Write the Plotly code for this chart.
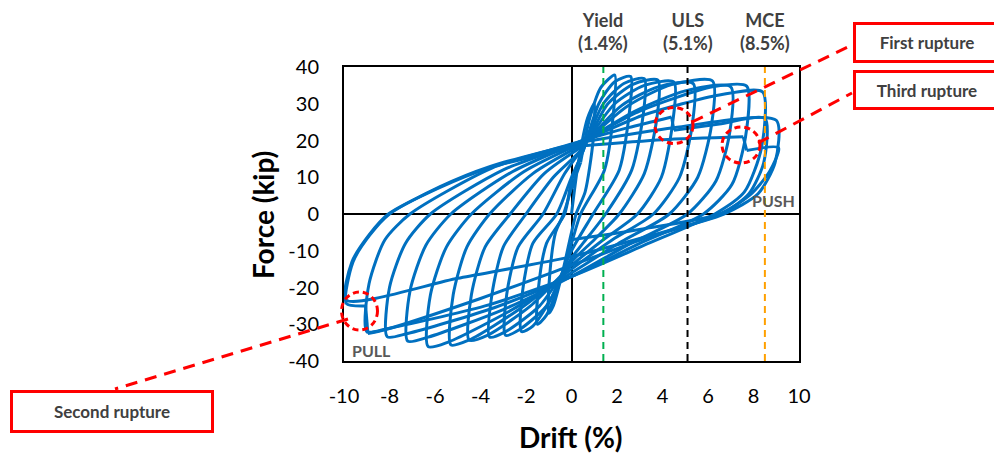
import plotly.graph_objects as go

# ---------------- data ----------------
# Hysteresis path, cycle by cycle (drift %, force kip); pieces are consecutive
c01_x = [0, 0.3, 0.7, 1.0, 0.95, 0.6, 0.2, 0, -0.4, -0.8, -1.0, -0.95, -0.7, -0.35, 0, 0.4]
c01_y = [0, 14, 26, 30, 20, 6, 0, -5, -16, -25, -27, -16, -5, 0, 7, 14]
c02_x = [0.4, 0.8, 1.3, 1.9, 1.85, 1.45, 0.4, 0, -0.6, -1.1, -1.5, -1.45, -1.1, -0.3, 0, 0.5]
c02_y = [14, 26, 34.5, 37.8, 28, 12, 0, -8, -20, -27.5, -30, -20, -8, 0, 9, 17]
c03_x = [0.5, 1.2, 1.9, 2.6, 2.55, 2.1, 0.95, 0, -0.9, -1.7, -2.2, -2.15, -1.7, -0.65, 0, 0.5]
c03_y = [17, 30, 36, 37.4, 28, 12, 0, -10, -23, -30.5, -32, -21, -8, 0, 10, 17]
c04_x = [0.5, 1.4, 2.3, 3.2, 3.15, 2.65, 1.5, 0.5, 0, -1.1, -2.3, -2.9, -2.85, -2.35, -1.25, -0.3, 0.5]
c04_y = [17, 30, 35.5, 36.8, 27, 12, 0, -8, -12, -25, -31.5, -33, -22, -9, 0, 11, 18]
c05_x = [0.5, 1.6, 2.7, 3.8, 3.75, 3.2, 2.1, 1.0, 0, -1.4, -2.9, -3.6, -3.5, -3.0, -2.0, -0.8, 0.5]
c05_y = [18, 30, 35.3, 36.4, 26, 11, 0, -7, -13, -25, -32, -33.5, -22, -9, 0, 10, 18]
c06_x = [0.5, 1.9, 3.2, 4.5, 4.45, 3.95, 2.9, 1.4, 0, -1.8, -3.7, -4.5, -4.4, -3.8, -2.7, -1.2, 0.5]
c06_y = [18, 30, 35, 35.9, 25, 10, 0, -7, -14, -25, -33, -34.3, -22, -9, 0, 11, 18.5]
c07_x = [0.5, 2.2, 3.8, 5.35, 5.3, 4.75, 3.6, 1.8, 0, -2.2, -4.5, -5.3, -5.2, -4.6, -3.6, -1.7, 0.5]
c07_y = [18.5, 29.5, 34.6, 35.5, 24, 10, 0, -7, -15, -25.5, -34.3, -35.6, -22, -9, 0, 11, 19]
c08_x = [0.5, 2.5, 4.4, 6.2, 6.15, 5.55, 4.3, 2.2, 0, -2.6, -5.4, -6.3, -6.2, -5.5, -4.4, -2.1, 0.5]
c08_y = [19, 29.5, 35.2, 36.2, 24, 10, 0, -7.5, -16, -26, -34.8, -36.1, -22, -9, 0, 11.5, 19.5]
c09_x = [0.5, 2.8, 5.0, 7.0, 6.95, 6.35, 5.1, 2.6, 0, -3.0, -6.3, -7.2, -7.1, -6.4, -5.3, -2.6, 0.5]
c09_y = [19.5, 28, 33.5, 34.6, 22, 9, 0, -8, -17, -26, -33.5, -34.6, -21, -8.5, 0, 11.5, 20]
c10_x = [0.5, 3.0, 6.2, 7.7, 7.65, 7.05, 5.8, 3.0, 0, -3.4, -7.2, -8.1, -8.0, -7.3, -6.2, -3.0, 0.5]
c10_y = [20, 28, 34.6, 34.8, 21, 8, 0, -8, -17, -25.5, -32.5, -33.4, -20, -8, 0, 12, 20]
c11_x = [0.5, 3.2, 6.5, 8.4, 8.35, 7.6, 6.3, 3.2, 0, -3.8, -8.1, -9.0, -8.9, -8.2, -7.1, -3.5, 0.5]
c11_y = [20, 27, 32.4, 33.2, 18, 6, 0, -8.5, -17, -25, -31.2, -32, -19, -7, 0, 12.5, 20]
# cycle 12: first rupture (push) and second rupture (pull)
c12a_x = [0.5, 2.5, 4.4]
c12a_y = [20, 23.5, 26.4]
c12b_x = [4.5, 6.5, 8.5, 8.45, 7.8, 6.6, 3.3, 0, -4.0, -8.2, -8.95]
c12b_y = [22.8, 24.5, 26, 14, 5.5, 0, -6.5, -14, -23, -31.5, -32.5]
c12c_x = [-9.05, -9.9, -9.6, -8.86, -8.0, -5.8, -3.6, 0.4]
c12c_y = [-25, -24.3, -13, -5.7, 0, 7.4, 12.9, 19.5]
c13_x = [0.4, 4.5, 9.0, 8.95, 8.2, 6.7, 3.4, 0, -5.0, -9.9, -9.65, -8.9, -8.05, -5.8, -3.6, 0.4]
c13_y = [19.5, 23.5, 25.5, 14, 5.5, 0, -6, -11.6, -17.5, -23.4, -13, -5.7, 0, 7.2, 12.6, 18.5]
# cycle 14: third rupture (push)
c14a_x = [0.4, 4.0, 7.55]
c14a_y = [18.5, 20.2, 21]
c14b_x = [7.7, 9.1, 8.7, 7.85, 6.5, 3.2, 0]
c14b_y = [17.3, 18, 11.5, 5.2, 0, -4, -7]

pieces = [(c01_x, c01_y), (c02_x, c02_y), (c03_x, c03_y), (c04_x, c04_y),
          (c05_x, c05_y), (c06_x, c06_y), (c07_x, c07_y), (c08_x, c08_y),
          (c09_x, c09_y), (c10_x, c10_y), (c11_x, c11_y), (c12a_x, c12a_y),
          (c12b_x, c12b_y), (c12c_x, c12c_y), (c13_x, c13_y), (c14a_x, c14a_y),
          (c14b_x, c14b_y)]

limit_drift = [1.4, 5.1, 8.5]
limit_names = ["Yield<br>(1.4%)", "ULS<br>(5.1%)", "MCE<br>(8.5%)"]
limit_colors = ["#00B050", "#000000", "#FFA000"]

x_ticks = [-10, -8, -6, -4, -2, 0, 2, 4, 6, 8, 10]
y_ticks = [-40, -30, -20, -10, 0, 10, 20, 30, 40]

# ---------------- figure ----------------
BLUE = "#0070C0"
fig = go.Figure()

prev = None
for px_, py_ in pieces:
    if prev is not None:
        # straight link (rupture drop) from end of previous piece
        fig.add_trace(go.Scatter(x=[prev[0], px_[0]], y=[prev[1], py_[0]], mode="lines",
                                 line=dict(color=BLUE, width=3), hoverinfo="skip",
                                 showlegend=False))
    fig.add_trace(go.Scatter(x=px_, y=py_, mode="lines",
                             line=dict(color=BLUE, width=3, shape="spline", smoothing=0.7),
                             hoverinfo="skip", showlegend=False))
    prev = (px_[-1], py_[-1])

# page body has an 8px margin: screen px -> figure px
OFF = 8
FIG_W, FIG_H = 1002 - OFF, 453 - OFF
# plot area in screen pixels
L, R, T, B = 344, 799, 67, 361
W, H = R - L, B - T


def pxx(p):
    return (p - L) / W


def pxy(p):
    return (B - p) / H


shapes = []
for d, c in zip(limit_drift, limit_colors):
    shapes.append(dict(type="line", xref="x", yref="y", x0=d, x1=d, y0=-40, y1=40,
                       line=dict(color=c, width=2, dash="7px,5px"), layer="above"))

RED = "#FF0000"
# rupture circles
for cx, cy, rx, ry in [(674, 125.5, 19, 18), (741, 145, 19, 18), (359.5, 311, 18, 19)]:
    shapes.append(dict(type="circle", xref="paper", yref="paper",
                       x0=pxx(cx - rx), x1=pxx(cx + rx), y0=pxy(cy + ry), y1=pxy(cy - ry),
                       line=dict(color=RED, width=3, dash="6px,4px"), layer="above"))
# leader lines
for x0, y0, x1, y1 in [(692, 122, 852, 45), (758, 143, 852, 93), (348, 319, 115, 389)]:
    shapes.append(dict(type="line", xref="paper", yref="paper",
                       x0=pxx(x0), y0=pxy(y0), x1=pxx(x1), y1=pxy(y1),
                       line=dict(color=RED, width=3, dash="12px,8px"), layer="above"))

annotations = []
FONT = "Lato, Carlito, Calibri, sans-serif"
GRAY = "#404040"
for d, n in zip(limit_drift, limit_names):
    annotations.append(dict(x=d, xref="x", y=pxy(32), yref="paper", text="<b>" + n + "</b>",
                            showarrow=False, font=dict(family=FONT, size=18, color=GRAY),
                            xanchor="center", yanchor="middle", align="center"))

for txt, cx, cy, w, h in [("First rupture", 926.5, 42, 142, 35),
                          ("Third rupture", 926.5, 89.5, 142, 34),
                          ("Second rupture", 111.5, 411, 198, 37)]:
    annotations.append(dict(x=pxx(cx), y=pxy(cy), xref="paper", yref="paper",
                            text="<b>" + txt + "</b>", showarrow=False,
                            font=dict(family=FONT, size=17, color=GRAY),
                            bordercolor=RED, borderwidth=3, borderpad=0,
                            width=w, height=h, bgcolor="white",
                            xanchor="center", yanchor="middle"))

annotations.append(dict(x=pxx(773), y=pxy(201), xref="paper", yref="paper", text="<b>PUSH</b>",
                        showarrow=False, xanchor="center", yanchor="middle",
                        font=dict(family=FONT, size=16, color="#595959")))
annotations.append(dict(x=pxx(371), y=pxy(350), xref="paper", yref="paper", text="<b>PULL</b>",
                        showarrow=False, xanchor="center", yanchor="middle",
                        font=dict(family=FONT, size=16, color="#595959")))

annotations.append(dict(x=pxx(571), y=pxy(437), xref="paper", yref="paper", text="<b>Drift (%)</b>",
                        showarrow=False, xanchor="center", yanchor="middle",
                        font=dict(family=FONT, size=28, color="#000000")))
annotations.append(dict(x=pxx(263), y=pxy(215), xref="paper", yref="paper", text="<b>Force (kip)</b>",
                        showarrow=False, textangle=-90, xanchor="center", yanchor="middle",
                        font=dict(family=FONT, size=28, color="#000000")))

axis_common = dict(showgrid=False, showline=True, mirror=True, linecolor="black", linewidth=2,
                   zeroline=True, zerolinecolor="black", zerolinewidth=2,
                   ticks="outside", tickcolor="rgba(0,0,0,0)",
                   tickfont=dict(family=FONT, size=20, color="#000000"))

fig.update_layout(
    width=FIG_W, height=FIG_H,
    margin=dict(l=L - OFF, r=FIG_W - (R - OFF), t=T - OFF, b=FIG_H - (B - OFF)),
    paper_bgcolor="white", plot_bgcolor="white",
    showlegend=False,
    xaxis=dict(range=[-10, 10], tickvals=x_ticks, ticktext=[str(v) for v in x_ticks],
               ticklen=16, **axis_common),
    yaxis=dict(range=[-40, 40], tickvals=y_ticks, ticktext=[str(v) for v in y_ticks],
               ticklen=19, **axis_common),
    shapes=shapes,
    annotations=annotations,
)

fig.write_html("out.html")
